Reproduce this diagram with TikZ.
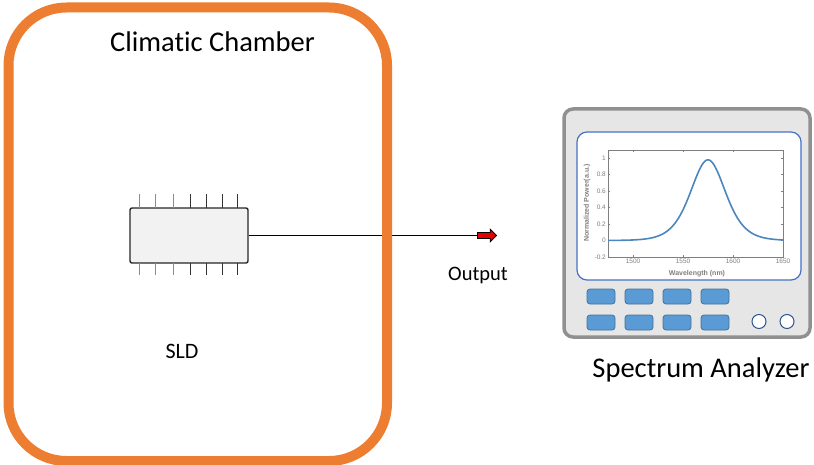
\documentclass[tikz,border=0pt]{standalone}
\usepackage{fontspec}
\setmainfont{Carlito}[Ligatures={NoCommon}]
\newfontfamily\plotfont{Liberation Sans}
\usepackage{xcolor}
\usepackage{tikz}
\usetikzlibrary{shapes.arrows, positioning}

\definecolor{chamberorange}{HTML}{ED7D31}
\definecolor{screenblue}{HTML}{4472C4}
\definecolor{keyblue}{HTML}{5B9BD5}
\definecolor{keyedge}{HTML}{41719C}
\definecolor{knobedge}{HTML}{2F528F}
\definecolor{casefill}{HTML}{E6E6E6}
\definecolor{caseedge}{HTML}{909090}
\definecolor{curveblue}{HTML}{4A86C0}
\definecolor{axisgray}{HTML}{7F7F7F}

\begin{document}
\begin{tikzpicture}[
    x=1pt, y=-1pt,
    bigtext/.style={font=\fontsize{28.5}{34}\selectfont, anchor=base, inner sep=0pt},
    smalltext/.style={font=\fontsize{20.5}{24}\selectfont, anchor=base, inner sep=0pt},
    chamber/.style={draw=chamberorange, line width=10pt, rounded corners=58pt},
    chipbox/.style={rectangle, draw=black!85, line width=1.4pt, fill=black!5, rounded corners=2pt, minimum width=118pt, minimum height=55pt},
    pin/.style={line width=1pt},
    fiber/.style={line width=1pt},
    outarrow/.style={single arrow, draw=black, fill=red!90!black, line width=0.8pt, inner sep=2.6pt, minimum height=19pt, single arrow head extend=3.3pt},
    casebox/.style={draw=caseedge, line width=3.5pt, fill=casefill, rounded corners=9pt},
    screen/.style={draw=screenblue, line width=1.2pt, fill=white, rounded corners=10pt},
    key/.style={draw=keyedge, line width=0.8pt, fill=keyblue, rounded corners=3pt},
    knob/.style={draw=knobedge, line width=1pt, fill=white},
    ticklabel/.style={font=\plotfont\fontsize{6.5}{7}\selectfont, text=axisgray, inner sep=1pt}
]
    \useasboundingbox (0,0) rectangle (814,465);

    % SLD chip with its pins
    \node[chipbox] (sld) at (189,235.5) {};
    \foreach \px in {139,155,173} {
        \draw[pin, black!45] (\px,194) -- (\px,208);
        \draw[pin, black!45] (\px,263) -- (\px,275);
    }
    \foreach \px in {190,206,222,237} {
        \draw[pin, black!80] (\px,194) -- (\px,208);
        \draw[pin, black!80] (\px,263) -- (\px,275);
    }
    \node[smalltext, font=\fontsize{22}{26}\selectfont] (sldlabel) at (182,358) {SLD};

    % fibre out of the chamber
    \node[outarrow] (out) at (485.5,235.5) {};
    \draw[fiber] (sld.east) -- (out.tail);
    \node[smalltext] (outlabel) at (478,280) {Output};

    % climatic chamber
    \draw[chamber] (8.5,7.5) rectangle (387,461);
    \node[bigtext] (chambertitle) at (212.5,52) {Climatic Chamber};

    % spectrum analyzer
    \draw[casebox] (564,109) rectangle (810,337);
    \draw[screen] (577,132) rectangle (801,280);
    \foreach \i in {0,...,3} {
        \draw[key] (587+38*\i,289) rectangle +(28,15);
        \draw[key] (587+38*\i,315) rectangle +(28,15);
    }
    \draw[knob] (759,321.5) circle (7);
    \draw[knob] (787,321.5) circle (7);
    \node[bigtext] (analyzer) at (701,377) {Spectrum Analyzer};

    % spectrum plot on the screen
    \draw[axisgray, line width=0.8pt] (608,150) rectangle (783,257);
    \foreach \v/\lab in {1/1, 0.8/0.8, 0.6/0.6, 0.4/0.4, 0.2/0.2, 0/0, -0.2/-0.2} {
        \draw[axisgray, line width=0.5pt] (608,{240.5-82.3*\v}) -- +(2,0);
        \draw[axisgray, line width=0.5pt] (783,{240.5-82.3*\v}) -- +(-2,0);
        \node[ticklabel, anchor=east] at (607,{240.5-82.3*\v}) {\lab};
    }
    \foreach \w in {1500,1550,1600,1650} {
        \draw[axisgray, line width=0.5pt] ({\w-867},257) -- +(0,-2);
        \draw[axisgray, line width=0.5pt] ({\w-867},150) -- +(0,2);
        \node[ticklabel, anchor=north] at ({\w-867},258) {\w};
    }
    \node[ticklabel, font=\plotfont\bfseries\fontsize{7}{8}\selectfont, rotate=90] at (587,203) {Normalized Power(a.u.)};
    \node[ticklabel, font=\plotfont\bfseries\fontsize{7}{8}\selectfont] at (697,274) {Wavelength (nm)};
    \draw[curveblue, line width=1.6pt] plot[domain=1475:1650, samples=140, smooth]
        ({\x-867}, {240.5-82.3*0.98/(cosh((\x-1575)/23.5)^2)});
\end{tikzpicture}
\end{document}
